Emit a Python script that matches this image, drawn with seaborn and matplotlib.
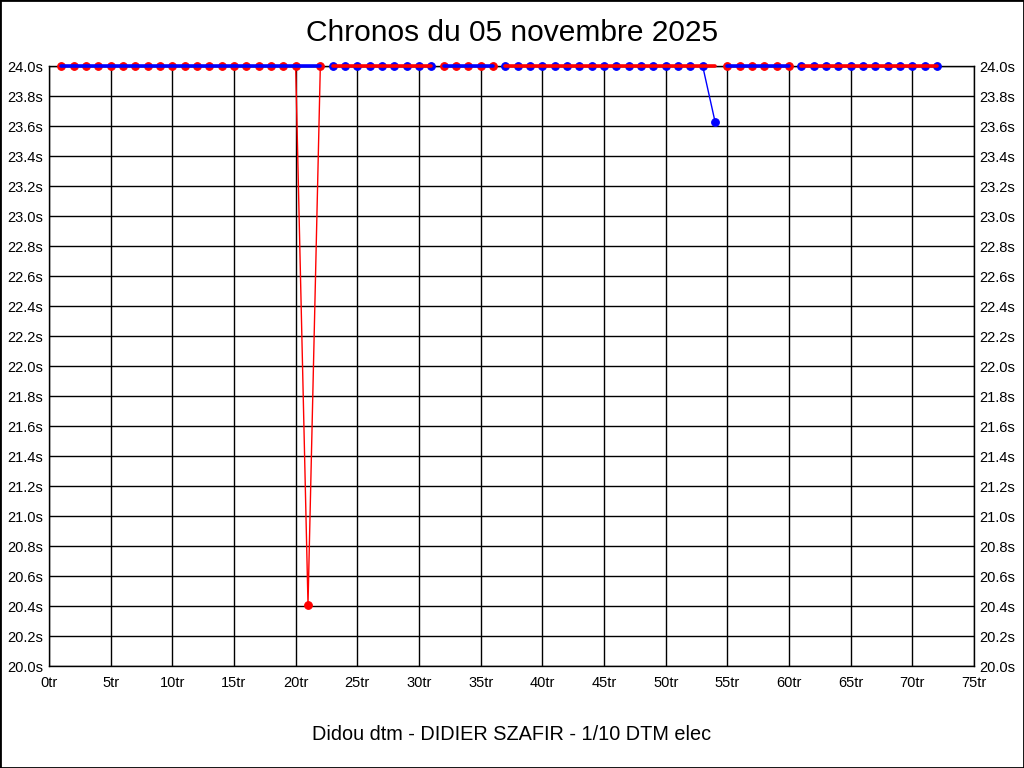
import numpy as np
import pandas as pd
import seaborn as sns
import matplotlib.pyplot as plt
from matplotlib.patches import Rectangle

sns.set_theme(style="white")
plt.rcParams['font.family'] = ['Liberation Sans', 'DejaVu Sans']
plt.rcParams['text.color'] = 'black'

title = "Chronos du 05 novembre 2025"
footer = "Didou dtm - DIDIER SZAFIR - 1/10 DTM elec"

# lap numbers (tr) and lap times (s); times above the 24.0s frame sit on it
laps = list(range(1, 73))
chronos = [24.0, 24.0, 24.0, 24.0, 24.0, 24.0, 24.0, 24.0, 24.0, 24.0,
           24.0, 24.0, 24.0, 24.0, 24.0, 24.0, 24.0, 24.0, 24.0, 24.0,
           20.41, 24.0, 24.0, 24.0, 24.0, 24.0, 24.0, 24.0, 24.0, 24.0,
           24.0, 24.0, 24.0, 24.0, 24.0, 24.0, 24.0, 24.0, 24.0, 24.0,
           24.0, 24.0, 24.0, 24.0, 24.0, 24.0, 24.0, 24.0, 24.0, 24.0,
           24.0, 24.0, 24.0, 23.63, 24.0, 24.0, 24.0, 24.0, 24.0, 24.0,
           24.0, 24.0, 24.0, 24.0, 24.0, 24.0, 24.0, 24.0, 24.0, 24.0,
           24.0, 24.0]
# run (manche) of each lap
runs = [1] * 22 + [2] * 9 + [3] * 5 + [4] * 18 + [5] * 6 + [6] * 12
run_colors = {1: "red", 2: "blue", 3: "red", 4: "blue", 5: "red", 6: "blue"}
other_colors = {1: "blue", 2: "red", 3: "blue", 4: "red", 5: "blue", 6: "red"}

x_ticks = list(range(0, 80, 5))
x_labels = [f"{v}tr" for v in x_ticks]
y_ticks = [round(20 + 0.2 * i, 1) for i in range(21)]
y_labels = [f"{v:.1f}s" for v in y_ticks]
y_min, y_max = 20.0, 24.0

df = pd.DataFrame({"tour": laps, "temps": chronos, "manche": runs})

fig = plt.figure(figsize=(10.24, 7.68), dpi=100)
ax = fig.add_axes([49 / 1024, 102 / 768, 925 / 1024, 600 / 768])

for run, sub in df.groupby("manche"):
    c = run_colors[run]
    # real lap times
    sns.lineplot(data=sub, x="tour", y="temps", color=c, linewidth=1,
                 marker="o", markersize=5.5, markeredgecolor=c,
                 markeredgewidth=0.8, ax=ax, clip_on=False, zorder=3)
    # frame-top trace of the run
    top = sub.assign(temps=y_max)
    sns.lineplot(data=top, x="tour", y="temps", color=other_colors[run],
                 linewidth=2.6, ax=ax, clip_on=False, zorder=4)

ax.set_xlim(0, 75)
ax.set_ylim(y_min, y_max)
ax.set_xticks(x_ticks)
ax.set_xticklabels(x_labels)
ax.set_yticks(y_ticks)
ax.set_yticklabels(y_labels)
ax.tick_params(axis="both", labelsize=10.5, length=0, colors="black")
ax.tick_params(axis="x", pad=7)
ax.tick_params(axis="y", pad=4, labelright=True)
ax.grid(True, color="black", linewidth=1)
for s in ax.spines.values():
    s.set_color("black")
    s.set_linewidth(1)
ax.set_xlabel("")
ax.set_ylabel("")

fig.text(0.5, 1 - 33 / 768, title, ha="center", va="center",
         fontsize=21.5, color="black")
fig.text(0.5, 1 - 734 / 768, footer, ha="center", va="center",
         fontsize=14.3, color="black")
fig.patches.append(Rectangle((0, 0), 1, 1, transform=fig.transFigure,
                             fill=False, edgecolor="black", linewidth=2))

fig.savefig("out.png", dpi=100, facecolor="white")
